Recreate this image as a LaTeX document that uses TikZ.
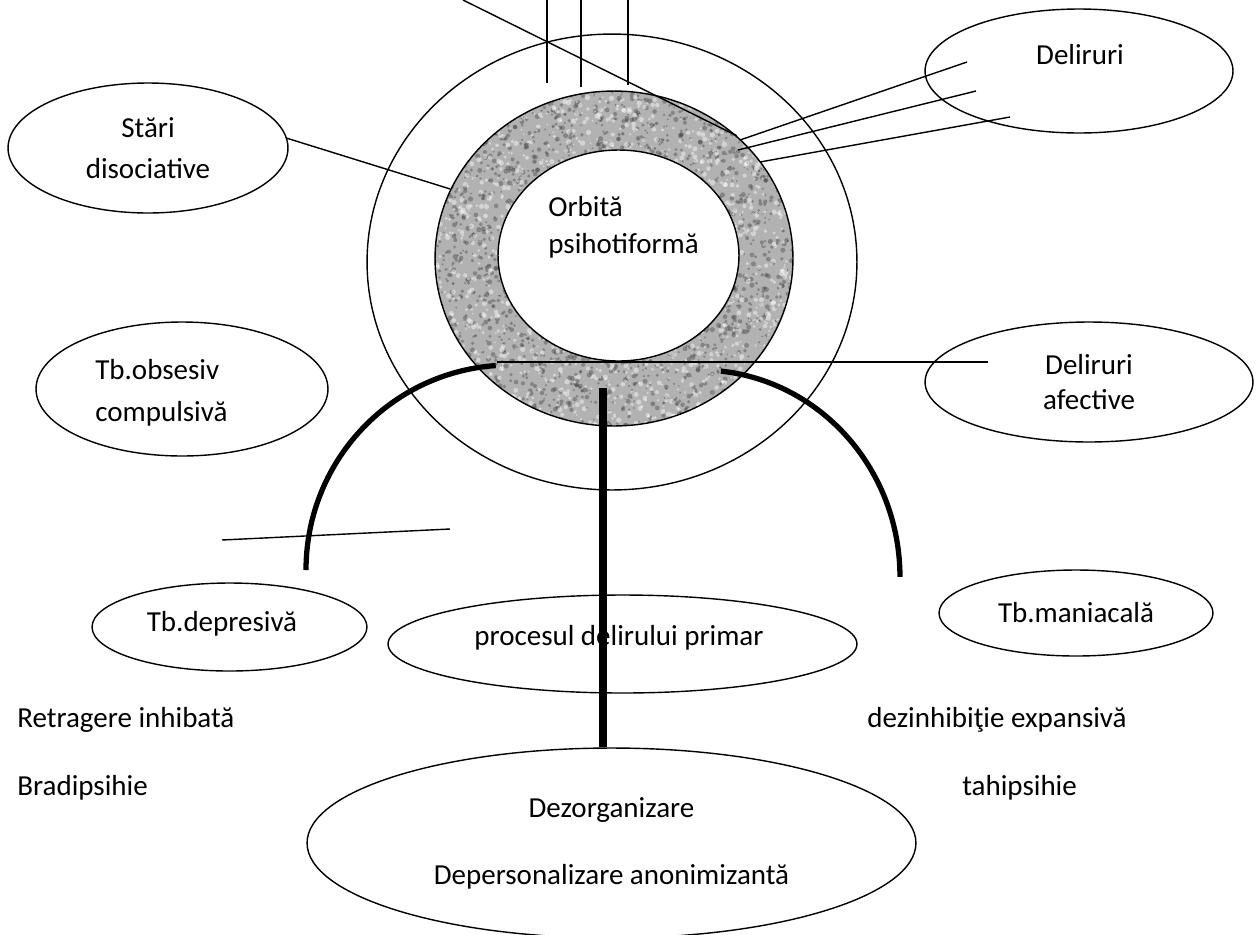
\documentclass[tikz,border=0pt]{standalone}
\usepackage{fontspec}
\setmainfont{Carlito}
\usepackage{xcolor}
\usepackage{tikz}
\usetikzlibrary{shapes.geometric,calc}

\definecolor{grain}{gray}{0.7}

\begin{document}
\begin{tikzpicture}[
    x=0.02cm, y=0.02cm,
    oval/.style={ellipse, draw, line width=0.8pt, inner sep=0pt, align=center, font=\fontsize{16.5}{20}\selectfont},
    txt/.style={inner sep=0pt, align=left, font=\fontsize{16.5}{20}\selectfont},
    link/.style={line width=0.8pt},
    heavy/.style={line width=3pt},
    stem/.style={line width=4.2pt}
]
\useasboundingbox (0,0) rectangle (1257,-934);

% Orbits
\node[oval, minimum width=9.8cm, minimum height=9.12cm] (outer) at (612,-262) {};
\node[oval, fill=grain, minimum width=7.16cm, minimum height=6.7cm,
    path picture={
        \pgfmathsetseed{11}
        \foreach \k in {1,...,2600}
            \fill[black!75, opacity=0.4]
                ({-180+360*rnd},{-168+336*rnd}) circle[radius={0.9+1.7*rnd}];
        \foreach \k in {1,...,1800}
            \fill[white, opacity=0.45]
                ({-180+360*rnd},{-168+336*rnd}) circle[radius={0.9+1.8*rnd}];
    }] (band) at (614,-258.5) {};
\node[oval, fill=white, minimum width=4.82cm, minimum height=4.22cm] (inner) at (618.5,-255.5) {};
\node[txt, anchor=west] (orbitxt) at (548,-227) {Orbită\\[1pt]psihotiformă};

% Ellipses
\node[oval, minimum width=5.6cm, minimum height=2.6cm] (stari) at (148,-148) {Stări\\[3.3pt]disociative};
\node[oval, minimum width=5.84cm, minimum height=2.68cm] (obsesiv) at (182,-389) {};
\node[txt, anchor=west] (obsesivtxt) at (95,-393) {Tb.obsesiv\\[4pt]compulsivă};
\node[oval, minimum width=6.16cm, minimum height=2.48cm] (deliruri) at (1079,-71) {};
\node[txt] (delirtxt) at (1080,-55) {Deliruri};
\node[oval, minimum width=6.56cm, minimum height=2.4cm] (afective) at (1089,-382) {Deliruri\\afective};
\node[oval, minimum width=5.5cm, minimum height=1.76cm] (depresiva) at (229.5,-627) {};
\node[txt] (depresivatxt) at (222,-624) {Tb.depresivă};
\node[oval, minimum width=5.48cm, minimum height=1.72cm] (maniacala) at (1076,-613) {Tb.maniacală};
\node[oval, minimum width=9.38cm, minimum height=1.96cm] (procesul) at (622.5,-644) {};
\node[txt] (procesultxt) at (619,-638) {procesul delirului primar};
\node[oval, minimum width=12.18cm, minimum height=3.8cm] (dezorg) at (611.5,-843) {Dezorganizare\\[18pt]Depersonalizare anonimizantă};

% Free text
\node[txt, anchor=base west] (retragere) at (17,-727) {Retragere inhibată};
\node[txt, anchor=base west] (bradi) at (17,-795) {Bradipsihie};
\node[txt, anchor=base west] (dezinhib) at (867,-727) {dezinhibiţie expansivă};
\node[txt, anchor=base west] (tahi) at (962,-795) {tahipsihie};

% Thin connectors
\coordinate (diagtop) at (463,0);
\draw[link] (diagtop) -- (band.45);
\foreach \xa/\ya in {547/83, 581/87, 628/85}
    \draw[link] (\xa,0) -- (\xa,-\ya);
\draw[link] (stari.4) -- (band.157);

\coordinate (d1) at (740,-140);
\coordinate (d2) at (738,-150);
\coordinate (d3) at (760,-162);
\coordinate (e1) at (967,-62);
\coordinate (e2) at (976,-91);
\coordinate (e3) at (1010,-117);
\draw[link] (d1) -- (e1);
\draw[link] (d2) -- (e2);
\draw[link] (d3) -- (e3);

\coordinate (hl) at (497,-362);
\coordinate (hr) at (988,-362);
\draw[link] (hl) -- (hr);

\coordinate (sa) at (222,-540);
\coordinate (sb) at (450,-529);
\draw[link] (sa) -- (sb);

% Heavy arcs and stem
\coordinate (leftarc) at (306,-570);
\draw[heavy] (leftarc) arc[start angle=180, end angle=94, x radius=4.08cm, y radius=4.1cm];
\coordinate (rightarc) at (720.9,-371.1);
\draw[heavy] (rightarc) arc[start angle=84, end angle=0, x radius=4cm, y radius=4.14cm];

\coordinate (stemtop) at (603,-388);
\draw[stem] (stemtop) -- (stemtop |- dezorg.north);

\end{tikzpicture}
\end{document}
